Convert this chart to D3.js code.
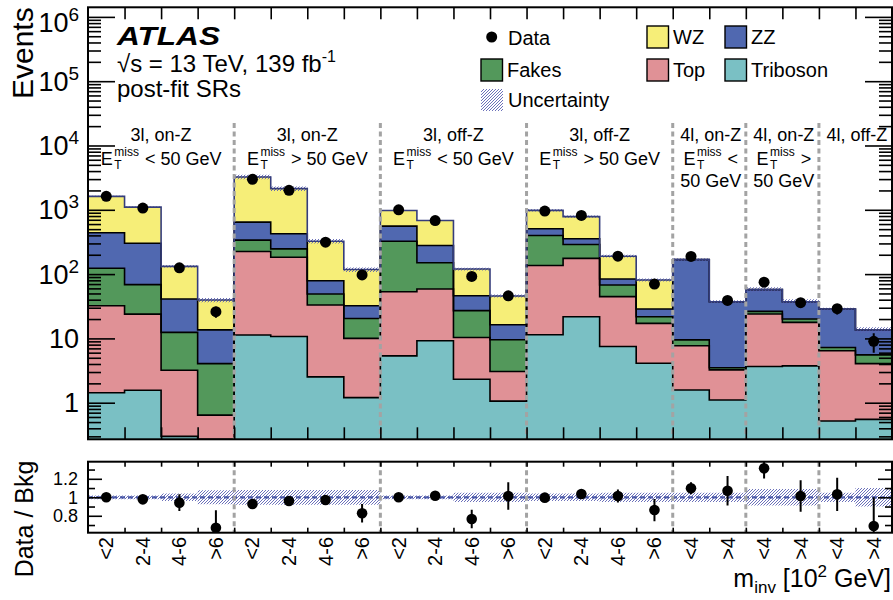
<!DOCTYPE html>
<html>
<head>
<meta charset="utf-8">
<script src="https://cdn.jsdelivr.net/npm/d3@7"></script>
<style>
  body { margin: 0; background: #fff; }
  svg { display: block; font-family: "Liberation Sans", Arial, Helvetica, sans-serif; }
</style>
</head>
<body>
<svg id="chart" width="893" height="600"></svg>
<script>
// bin labels (m_inv in 10^2 GeV)
const binLabels = ["<2","2-4","4-6",">6", "<2","2-4","4-6",">6",
                   "<2","2-4","4-6",">6", "<2","2-4","4-6",">6",
                   "<4",">4", "<4",">4", "<4",">4"];

// signal regions: number of bins and label lines
const regionBins  = [4, 4, 4, 4, 2, 2, 2];
const regionName  = ["3l, on-Z","3l, on-Z","3l, off-Z","3l, off-Z","4l, on-Z","4l, on-Z","4l, off-Z"];
const regionMet   = ["< 50 GeV","> 50 GeV","< 50 GeV","> 50 GeV","<",">",null];
const regionExtra = [null,null,null,null,"50 GeV","50 GeV",null];

// post-fit yields per bin
const triboson = [1.43,1.56,0.3,0.1, 11.3,10.7,2.52,1.2, 5.35,9.2,2.32,1.06, 11.4,21.7,7.5,4.1, 1.58,1.1, 3.65,3.74, 0.52,0.55];
const topQuark = [30.8,22.3,2.9,0.54, 213,172,30.5,8.8, 47.7,49.5,8.0,2.0, 124.6,154,37.1,13, 6.1,2.14, 20.25,14, 5.9,3.5];
const fakes    = [90.8,44.7,9.2,3.42, 113,64,16,10.4, 272,91.3,16.7,6.45, 262,113,23.2,4.6, 1.8,0.26, 2.4,2.3, 0.8,1.5];
const zz       = [317,233,28.6,9.5, 306,177,30,11.8, 232,128,19,6.8, 109,65,16.2,6.9, 158.5,33.7, 31,17.2, 21.4,7.95];
const wz       = [1179,800,91,26, 2593,1709,246,85.4, 420,405,74,29.4, 473,429,106,52.4, 0,0, 0,0, 0,0];

// observed data
const data = [1620,1063,125,26, 2980,2009,313,97, 1000,680,92,46, 955,818,190,70, 188,39, 75,36, 29,9];

// data / bkg ratio and its errors
const ratio    = [1.0,0.978,0.942,0.671, 0.928,0.96,0.971,0.827, 1.0,1.017,0.765,1.014, 0.996,1.036,1.014,0.862, 1.097,1.071, 1.313,1.014, 1.032,0.69];
const ratioErr = [0.025,0.03,0.09,0.19, 0.02,0.025,0.05,0.1, 0.03,0.035,0.1,0.15, 0.03,0.035,0.07,0.12, 0.065,0.16, 0.11,0.17, 0.18,0.31];

// relative background uncertainty
const bkgUnc = [0.02,0.02,0.04,0.075, 0.08,0.08,0.08,0.08, 0.02,0.02,0.05,0.05, 0.04,0.04,0.05,0.05, 0.05,0.05, 0.09,0.09, 0.05,0.1];

const procKeys   = ["triboson","top","fakes","zz","wz"];
const procColors = {triboson:"#7ac0c4", top:"#e09196", fakes:"#53985b", zz:"#5068b0", wz:"#f6ee78"};

const nBins = binLabels.length;
const table = binLabels.map((l, i) => ({bin: i, triboson: triboson[i], top: topQuark[i], fakes: fakes[i], zz: zz[i], wz: wz[i]}));

const svg = d3.select("#chart");
const W = 893;
const X0 = 88, X1 = 892;
const mainTop = 7.3, mainBot = 439.3;
const ratTop = 461.7, ratBot = 532.7;
const F = '"Liberation Sans", Arial, Helvetica, sans-serif';

svg.append("rect").attr("width", W).attr("height", 600).attr("fill", "#fff");

const x = d3.scaleLinear().domain([0, nBins]).range([X0, X1]);
const yMin = Math.pow(10, -0.569), yMax = Math.pow(10, 6.149);
const y = d3.scaleLog().domain([yMin, yMax]).range([mainBot, mainTop]).clamp(true);
const yr = d3.scaleLinear().domain([0.617, 1.385]).range([ratBot, ratTop]);
const ys = v => y(Math.max(v, yMin));

// hatch pattern
const defs = svg.append("defs");
const pat = defs.append("pattern").attr("id", "hatch").attr("patternUnits", "userSpaceOnUse")
  .attr("width", 3).attr("height", 3);
pat.append("path").attr("d", "M-1,1 l2,-2 M0,3 l3,-3 M2,4 l2,-2")
  .attr("stroke", "#5b61b2").attr("stroke-width", 0.9);
defs.append("clipPath").attr("id", "clipMain").append("rect")
  .attr("x", X0).attr("y", mainTop).attr("width", X1 - X0).attr("height", mainBot - mainTop);
defs.append("clipPath").attr("id", "clipRat").append("rect")
  .attr("x", X0).attr("y", ratTop).attr("width", X1 - X0).attr("height", ratBot - ratTop);

// step helpers: two points per bin
function stepPoints(lo, hi) {
  const pts = [];
  for (let i = 0; i < nBins; i++) {
    pts.push({e: i, lo: lo(i), hi: hi(i)});
    pts.push({e: i + 1, lo: lo(i), hi: hi(i)});
  }
  return pts;
}

// ---------- main panel ----------
const main = svg.append("g").attr("clip-path", "url(#clipMain)");
const series = d3.stack().keys(procKeys)(table);

const areaMain = d3.area().x(d => x(d.e)).y0(d => ys(d.lo)).y1(d => ys(d.hi));
const lineMain = d3.line().x(d => x(d.e)).y(d => ys(d.hi));

series.forEach(s => {
  const pts = stepPoints(i => s[i][0], i => s[i][1]);
  main.append("path").attr("d", areaMain(pts)).attr("fill", procColors[s.key]);
});
series.forEach((s, k) => {
  if (k === series.length - 1) return;
  const pts = stepPoints(i => s[i][0], i => s[i][1]);
  main.append("path").attr("d", lineMain(pts)).attr("fill", "none")
    .attr("stroke", "#000").attr("stroke-width", 1.6);
});

const totals = series[series.length - 1].map(d => d[1]);
main.append("path")
  .attr("d", areaMain(stepPoints(i => totals[i] * (1 - bkgUnc[i]), i => totals[i] * (1 + bkgUnc[i]))))
  .attr("fill", "url(#hatch)");
main.append("path")
  .attr("d", lineMain(stepPoints(i => 0, i => totals[i])))
  .attr("fill", "none").attr("stroke", "#353d7c").attr("stroke-width", 1.6);

// region separators
const sepEdges = [];
let acc = 0;
regionBins.forEach((n, k) => { acc += n; if (k < regionBins.length - 1) sepEdges.push(acc); });

svg.append("g").selectAll("line").data(sepEdges).join("line")
  .attr("x1", d => x(d)).attr("x2", d => x(d))
  .attr("y1", 123).attr("y2", mainBot)
  .attr("stroke", "#a3a3a3").attr("stroke-width", 3).attr("stroke-dasharray", "5,3.5");

// data points
const dg = svg.append("g").attr("clip-path", "url(#clipMain)");
dg.selectAll("line").data(data).join("line")
  .attr("x1", (d, i) => x(i + 0.5)).attr("x2", (d, i) => x(i + 0.5))
  .attr("y1", d => ys(d + Math.sqrt(d))).attr("y2", d => ys(d - Math.sqrt(d)))
  .attr("stroke", "#000").attr("stroke-width", 2);
dg.selectAll("circle").data(data).join("circle")
  .attr("cx", (d, i) => x(i + 0.5)).attr("cy", d => ys(d)).attr("r", 5.5).attr("fill", "#000");

// main frame and ticks
svg.append("rect").attr("x", X0).attr("y", mainTop).attr("width", X1 - X0).attr("height", mainBot - mainTop)
  .attr("fill", "none").attr("stroke", "#000").attr("stroke-width", 2);

const edgeTicks = d3.range(1, nBins);
function drawTicks(axis, transform) {
  const g = svg.append("g").attr("transform", transform).call(axis);
  g.select(".domain").remove();
  g.selectAll(".tick line").attr("stroke", "#000").attr("stroke-width", 1.6);
  g.selectAll(".tick text").remove();
  return g;
}
drawTicks(d3.axisBottom(x).tickValues(edgeTicks).tickSize(-12), `translate(0,${mainBot})`);
drawTicks(d3.axisTop(x).tickValues(edgeTicks).tickSize(-12), `translate(0,${mainTop})`);

const majorY = d3.range(0, 7).map(k => Math.pow(10, k));
const minorY = [];
for (let k = -1; k <= 6; k++) for (let m = 2; m <= 9; m++) {
  const v = m * Math.pow(10, k);
  if (v >= yMin && v <= yMax) minorY.push(v);
}
drawTicks(d3.axisLeft(y).tickValues(majorY).tickSize(-27), `translate(${X0},0)`);
drawTicks(d3.axisLeft(y).tickValues(minorY).tickSize(-13), `translate(${X0},0)`);
drawTicks(d3.axisRight(y).tickValues(majorY).tickSize(-27), `translate(${X1},0)`);
drawTicks(d3.axisRight(y).tickValues(minorY).tickSize(-13), `translate(${X1},0)`);

// y tick labels (the top one is pushed down to stay inside the page)
majorY.forEach((v, k) => {
  const t = svg.append("text").attr("x", 79).attr("y", y(v) + 9.5 + (k === 6 ? 6 : 0))
    .attr("text-anchor", "end").style("font-size", "27px").style("font-family", F);
  if (k <= 1) { t.text(String(v)); }
  else {
    t.append("tspan").text("10");
    t.append("tspan").attr("dy", -11).style("font-size", "19px").text(k);
  }
});

svg.append("text").attr("transform", `translate(33,${mainTop}) rotate(-90)`)
  .attr("text-anchor", "end").style("font-size", "30px").style("font-family", F).text("Events");

// ---------- labels ----------
svg.append("text").attr("x", 117).attr("y", 45).attr("textLength", 103).attr("lengthAdjust", "spacingAndGlyphs")
  .style("font-size", "26px").style("font-weight", "bold").style("font-style", "italic")
  .style("font-family", F).text("ATLAS");
const lumi = svg.append("text").attr("x", 117).attr("y", 72).style("font-size", "24px").style("font-family", F);
lumi.append("tspan").text("√s = 13 TeV, 139 fb");
lumi.append("tspan").attr("dy", -10).style("font-size", "16px").text("-1");
svg.append("text").attr("x", 117).attr("y", 97).style("font-size", "24px").style("font-family", F).text("post-fit SRs");

// legend
const leg = svg.append("g").style("font-family", F).style("font-size", "20px");
leg.append("circle").attr("cx", 491.7).attr("cy", 37).attr("r", 5.5).attr("fill", "#000");
leg.append("text").attr("x", 508).attr("y", 44.5).text("Data");
const legBoxes = [
  {key: "fakes", label: "Fakes", x: 481, yy: 59},
  {key: "wz", label: "WZ", x: 647, yy: 26},
  {key: "zz", label: "ZZ", x: 725, yy: 26},
  {key: "top", label: "Top", x: 647, yy: 59},
  {key: "triboson", label: "Triboson", x: 725, yy: 59}
];
legBoxes.forEach(b => {
  leg.append("rect").attr("x", b.x).attr("y", b.yy).attr("width", 21.5).attr("height", 22)
    .attr("fill", procColors[b.key]).attr("stroke", "#000").attr("stroke-width", 1.4);
  leg.append("text").attr("x", b.x + 26).attr("y", b.yy + 18).text(b.label);
});
leg.append("rect").attr("x", 481).attr("y", 89).attr("width", 22).attr("height", 22).attr("fill", "url(#hatch)");
leg.append("text").attr("x", 508).attr("y", 107).text("Uncertainty");

// region labels
function metLabel(cx, yb, rest) {
  const g = svg.append("g").style("font-family", F).style("font-size", "18px");
  const e = g.append("text").attr("x", 0).attr("y", yb).text("E");
  const wE = e.node().getComputedTextLength();
  const sup = g.append("text").attr("x", wE + 1.5).attr("y", yb - 9).style("font-size", "12px").text("miss");
  const sub = g.append("text").attr("x", wE + 1.5).attr("y", yb + 3.5).style("font-size", "12px").text("T");
  const wS = Math.max(sup.node().getComputedTextLength(), sub.node().getComputedTextLength());
  const r = g.append("text").attr("x", wE + 1.5 + wS + 6).attr("y", yb).text(rest);
  const total = wE + 1.5 + wS + 6 + r.node().getComputedTextLength();
  g.attr("transform", `translate(${cx - total / 2},0)`);
}
let startBin = 0;
regionBins.forEach((n, k) => {
  const cx = x(startBin + n / 2) + (n === 2 ? 1.5 : 0);
  svg.append("text").attr("x", cx).attr("y", 141).attr("text-anchor", "middle")
    .style("font-size", "18px").style("font-family", F).text(regionName[k]);
  if (regionMet[k]) metLabel(cx, 165, regionMet[k]);
  if (regionExtra[k]) svg.append("text").attr("x", cx).attr("y", 187).attr("text-anchor", "middle")
    .style("font-size", "18px").style("font-family", F).text(regionExtra[k]);
  startBin += n;
});

// ---------- ratio panel ----------
const rat = svg.append("g").attr("clip-path", "url(#clipRat)");
const areaRat = d3.area().x(d => x(d.e)).y0(d => yr(d.lo)).y1(d => yr(d.hi));
rat.append("path").attr("d", areaRat(stepPoints(i => 1 - bkgUnc[i], i => 1 + bkgUnc[i])))
  .attr("fill", "url(#hatch)");
rat.append("line").attr("x1", X0).attr("x2", X1).attr("y1", yr(1)).attr("y2", yr(1))
  .attr("stroke", "#4a58a8").attr("stroke-width", 2.2).attr("stroke-dasharray", "5,3");
rat.selectAll("line.sep").data(sepEdges).join("line").attr("class", "sep")
  .attr("x1", d => x(d)).attr("x2", d => x(d)).attr("y1", ratTop).attr("y2", ratBot)
  .attr("stroke", "#a3a3a3").attr("stroke-width", 3).attr("stroke-dasharray", "5,3.5");
rat.selectAll("line.err").data(ratio).join("line").attr("class", "err")
  .attr("x1", (d, i) => x(i + 0.5)).attr("x2", (d, i) => x(i + 0.5))
  .attr("y1", (d, i) => yr(d + ratioErr[i])).attr("y2", (d, i) => yr(d - ratioErr[i]))
  .attr("stroke", "#000").attr("stroke-width", 2);
rat.selectAll("circle").data(ratio).join("circle")
  .attr("cx", (d, i) => x(i + 0.5)).attr("cy", d => yr(d)).attr("r", 5.3).attr("fill", "#000");

svg.append("rect").attr("x", X0).attr("y", ratTop).attr("width", X1 - X0).attr("height", ratBot - ratTop)
  .attr("fill", "none").attr("stroke", "#000").attr("stroke-width", 2);
drawTicks(d3.axisBottom(x).tickValues(edgeTicks).tickSize(-5), `translate(0,${ratBot})`);
drawTicks(d3.axisTop(x).tickValues(edgeTicks).tickSize(-5), `translate(0,${ratTop})`);
const ratMajor = [0.8, 1.0, 1.2], ratMinor = [0.7, 0.9, 1.1, 1.3];
drawTicks(d3.axisLeft(yr).tickValues(ratMajor).tickSize(-14), `translate(${X0},0)`);
drawTicks(d3.axisLeft(yr).tickValues(ratMinor).tickSize(-7), `translate(${X0},0)`);
drawTicks(d3.axisRight(yr).tickValues(ratMajor).tickSize(-14), `translate(${X1},0)`);
drawTicks(d3.axisRight(yr).tickValues(ratMinor).tickSize(-7), `translate(${X1},0)`);

svg.append("g").selectAll("text").data(ratMajor).join("text")
  .attr("x", 78).attr("y", d => yr(d) + 6.5).attr("text-anchor", "end")
  .style("font-size", "18px").style("font-family", F).text(d => d === 1 ? "1" : d3.format(".1f")(d));

svg.append("text").attr("transform", `translate(33,519) rotate(-90)`).attr("text-anchor", "middle")
  .style("font-size", "25px").style("font-family", F).text("Data / Bkg");

// bin labels, rotated
svg.append("g").selectAll("text").data(binLabels).join("text")
  .attr("transform", (d, i) => `translate(${x(i + 0.5) + 7},537) rotate(-90)`)
  .attr("text-anchor", "end").style("font-size", "20px").style("font-family", F).text(d => d);

// x axis title
const xt = svg.append("text").attr("x", 891).attr("y", 587).attr("text-anchor", "end")
  .style("font-size", "25px").style("font-family", F);
xt.append("tspan").text("m");
xt.append("tspan").attr("dy", 6).style("font-size", "17px").text("inv");
xt.append("tspan").attr("dy", -6).text(" [10");
xt.append("tspan").attr("dy", -10).style("font-size", "17px").text("2");
xt.append("tspan").attr("dy", 10).text(" GeV]");
</script>
</body>
</html>
